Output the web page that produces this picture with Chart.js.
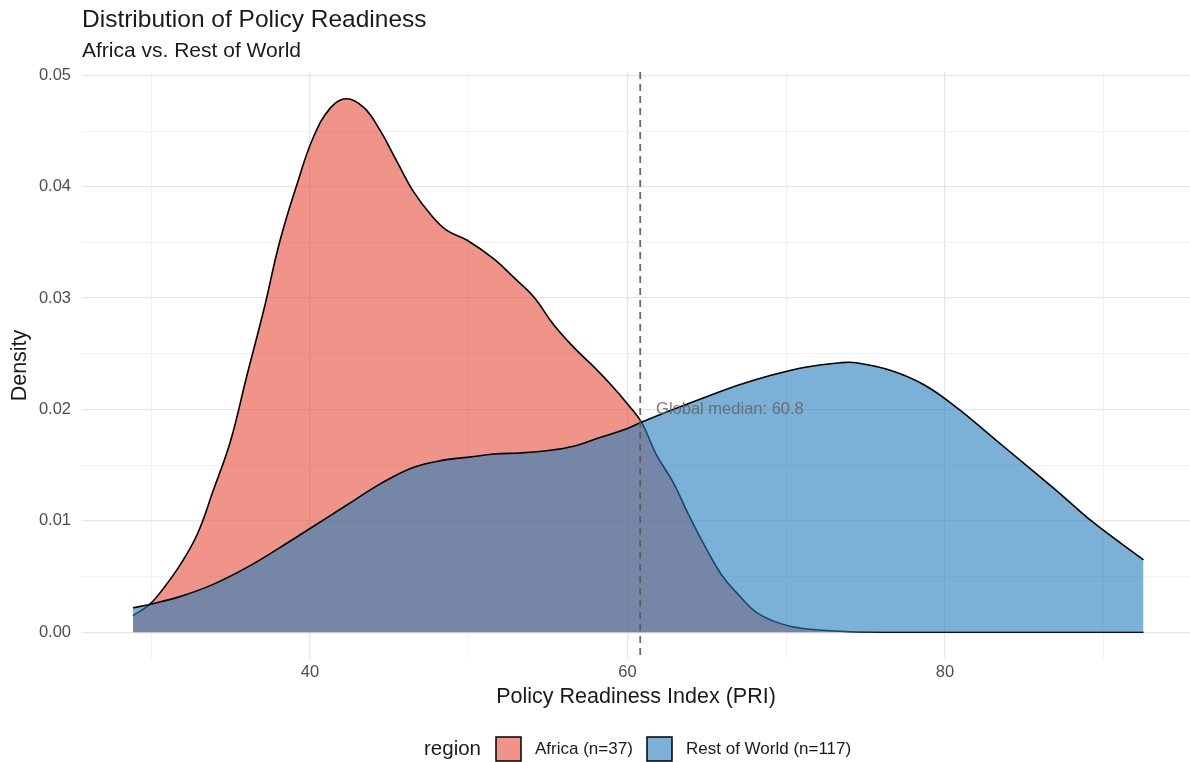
<!DOCTYPE html>
<html>
<head>
<meta charset="utf-8">
<script src="https://cdn.jsdelivr.net/npm/chart.js@4.4.1/dist/chart.umd.min.js"></script>
<style>
  html, body { margin: 0; padding: 0; background: #fff; }
  #wrap { width: 1190px; height: 762px; }
</style>
</head>
<body>
<div id="wrap"><canvas id="chart" width="1190" height="762"></canvas></div>
<script>
// density curves (x = PRI, y = density)
const africaX = [28.85, 29.9, 30.8, 31.8, 32.9, 33.9, 35.0, 36.0, 37.1, 38.1, 39.2, 40.2, 41.3, 42.3, 43.4, 44.4, 45.5, 46.5, 47.6, 48.6, 49.9, 51.6, 52.8, 54.1, 55.3, 56.6, 57.9, 59.1, 60.0, 60.9, 61.8, 62.9, 63.9, 65.0, 66.0, 67.1, 68.1, 69.2, 70.4, 72.1, 74, 78, 82, 86, 90, 92.5];
const africaY = [0.0015, 0.0025, 0.0040, 0.0060, 0.0088, 0.0127, 0.0172, 0.0229, 0.0290, 0.0351, 0.0403, 0.0444, 0.0471, 0.0479, 0.0471, 0.0451, 0.0422, 0.0396, 0.0375, 0.0361, 0.0352, 0.0335, 0.0319, 0.0301, 0.0277, 0.0256, 0.0238, 0.0220, 0.0205, 0.0188, 0.0160, 0.0134, 0.0104, 0.0074, 0.0050, 0.0032, 0.0018, 0.0010, 0.0005, 0.0002, 0.00005, 0, 0, 0, 0, 0];

const restX = [28.85, 29.9, 31.8, 33.9, 36.0, 38.1, 40.2, 42.3, 44.4, 46.5, 48.6, 49.9, 51.6, 53.2, 54.9, 56.6, 58.3, 60.0, 60.8, 62.7, 64.9, 67.0, 69.1, 71.2, 73.4, 74.4, 76.6, 78.7, 80.8, 83.0, 85.1, 87.2, 89.3, 92.5];
const restY = [0.0022, 0.0025, 0.0032, 0.0043, 0.0058, 0.0076, 0.0095, 0.0114, 0.0133, 0.0148, 0.0155, 0.0157, 0.0160, 0.0161, 0.0163, 0.0167, 0.0175, 0.0183, 0.0188, 0.0199, 0.0211, 0.0222, 0.0231, 0.0238, 0.0242, 0.0242, 0.0235, 0.0222, 0.0201, 0.0175, 0.0150, 0.0125, 0.0099, 0.0065];

const seriesNames = ['Africa (n=37)', 'Rest of World (n=117)'];
const xTicks = [30, 40, 50, 60, 70, 80, 90];
const xLabels = [40, 60, 80];
const yTicks = [0, 0.005, 0.01, 0.015, 0.02, 0.025, 0.03, 0.035, 0.04, 0.045, 0.05];
const yLabels = [0, 0.01, 0.02, 0.03, 0.04, 0.05];
const globalMedian = 60.8;

const FONT = '"Liberation Sans", Arial, Helvetica, sans-serif';
const africaFill = 'rgba(230, 77, 60, 0.6)';
const restFill = 'rgba(35, 125, 187, 0.6)';

const toPoints = (xs, ys) => xs.map((x, i) => ({ x: x, y: ys[i] }));
const isLabel = (list, v) => list.some(l => Math.abs(l - v) < 1e-9);

// titles, legend, median line + label
const extras = {
  id: 'extras',
  afterDatasetsDraw(chart) {
    const { ctx, chartArea, scales } = chart;
    const mx = scales.x.getPixelForValue(globalMedian);
    ctx.save();
    ctx.strokeStyle = 'rgba(90, 90, 90, 0.9)';
    ctx.lineWidth = 1.8;
    ctx.setLineDash([7, 5]);
    ctx.beginPath();
    ctx.moveTo(mx, chartArea.top);
    ctx.lineTo(mx, chartArea.bottom);
    ctx.stroke();
    ctx.setLineDash([]);

    ctx.fillStyle = 'rgba(100, 100, 100, 0.85)';
    ctx.font = '16.5px ' + FONT;
    ctx.textAlign = 'left';
    ctx.textBaseline = 'middle';
    ctx.fillText('Global median: ' + globalMedian, scales.x.getPixelForValue(globalMedian + 1), scales.y.getPixelForValue(0.02));
    ctx.restore();
  },
  afterDraw(chart) {
    const { ctx, chartArea } = chart;
    ctx.save();
    ctx.fillStyle = '#1a1a1a';
    ctx.textAlign = 'left';
    ctx.textBaseline = 'middle';
    ctx.font = '24.5px ' + FONT;
    ctx.fillText('Distribution of Policy Readiness', 82, 20);
    ctx.font = '21px ' + FONT;
    ctx.fillText('Africa vs. Rest of World', 82, 51);

    // axis titles
    ctx.textAlign = 'center';
    ctx.font = '21.5px ' + FONT;
    ctx.fillText('Policy Readiness Index (PRI)', (chartArea.left + chartArea.right) / 2, 697);
    ctx.save();
    ctx.translate(20, (chartArea.top + chartArea.bottom) / 2);
    ctx.rotate(-Math.PI / 2);
    ctx.fillText('Density', 0, 0);
    ctx.restore();

    // legend
    ctx.textAlign = 'left';
    ctx.font = '20.5px ' + FONT;
    ctx.fillText('region', 424, 749);
    const keys = [[496, africaFill, 535], [647, restFill, 686]];
    ctx.font = '17px ' + FONT;
    keys.forEach((k, i) => {
      ctx.fillStyle = '#fff';
      ctx.fillRect(k[0], 737, 25, 24);
      ctx.fillStyle = k[1];
      ctx.fillRect(k[0], 737, 25, 24);
      ctx.strokeStyle = '#000';
      ctx.lineWidth = 1.5;
      ctx.strokeRect(k[0], 737, 25, 24);
      ctx.fillStyle = '#1a1a1a';
      ctx.fillText(seriesNames[i], k[2], 749);
    });
    ctx.restore();
  }
};

new Chart(document.getElementById('chart'), {
  type: 'line',
  data: {
    datasets: [
      {
        label: seriesNames[0],
        data: toPoints(africaX, africaY),
        borderColor: '#000',
        borderWidth: 1.6,
        backgroundColor: africaFill,
        fill: 'origin',
        pointRadius: 0,
        tension: 0.4,
        order: 1
      },
      {
        label: seriesNames[1],
        data: toPoints(restX, restY),
        borderColor: '#000',
        borderWidth: 1.6,
        backgroundColor: restFill,
        fill: 'origin',
        pointRadius: 0,
        tension: 0.4,
        order: 0
      }
    ]
  },
  options: {
    responsive: false,
    animation: false,
    layout: { padding: { top: 72, left: 0, right: 0, bottom: 0 } },
    plugins: {
      legend: { display: false },
      tooltip: { enabled: false }
    },
    scales: {
      x: {
        type: 'linear',
        min: 25.64,
        max: 95.43,
        afterFit: (s) => { s.height = 103; },
        afterBuildTicks: (s) => { s.ticks = xTicks.map(v => ({ value: v })); },
        border: { display: false },
        grid: {
          drawTicks: false,
          color: (c) => isLabel(xLabels, c.tick.value) ? '#e6e6e6' : '#f1f1f1',
          lineWidth: (c) => isLabel(xLabels, c.tick.value) ? 1.3 : 1
        },
        ticks: {
          padding: 4,
          maxRotation: 0,
          autoSkip: false,
          color: '#4d4d4d',
          font: { family: FONT, size: 16.5 },
          callback: (v) => isLabel(xLabels, v) ? String(v) : ''
        }
      },
      y: {
        min: -0.0024,
        max: 0.0503,
        afterFit: (s) => { s.width = 82; },
        afterBuildTicks: (s) => { s.ticks = yTicks.map(v => ({ value: v })); },
        border: { display: false },
        grid: {
          drawTicks: false,
          color: (c) => isLabel(yLabels, c.tick.value) ? '#e6e6e6' : '#f1f1f1',
          lineWidth: (c) => isLabel(yLabels, c.tick.value) ? 1.3 : 1
        },
        ticks: {
          padding: 11,
          autoSkip: false,
          color: '#4d4d4d',
          font: { family: FONT, size: 16.5 },
          callback: (v) => isLabel(yLabels, v) ? v.toFixed(2) : ''
        }
      }
    }
  },
  plugins: [extras]
});
</script>
</body>
</html>
